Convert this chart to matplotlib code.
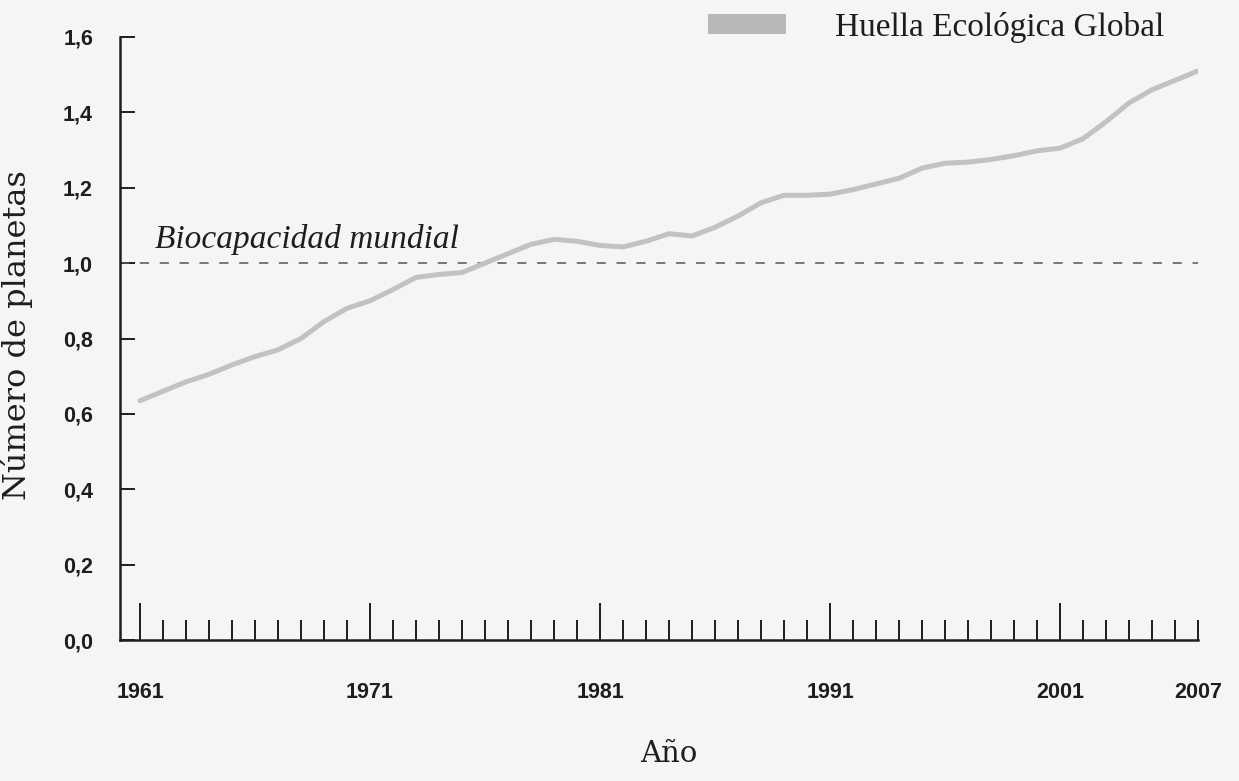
import numpy as np
import matplotlib
matplotlib.use('Agg')
import matplotlib.pyplot as plt
from matplotlib.patches import Patch
from matplotlib.ticker import FuncFormatter, FixedLocator

# data (ecological footprint, number of planets)
years = np.arange(1961, 2008)
huella = [0.635, 0.66, 0.685, 0.705, 0.73, 0.752, 0.77, 0.80, 0.845, 0.88,
          0.90, 0.93, 0.962, 0.97, 0.975, 1.0, 1.025, 1.05, 1.063, 1.058,
          1.047, 1.043, 1.058, 1.078, 1.072, 1.095, 1.125, 1.16, 1.18, 1.18,
          1.183, 1.195, 1.21, 1.225, 1.252, 1.265, 1.268, 1.275, 1.285, 1.298,
          1.305, 1.33, 1.375, 1.425, 1.46, 1.485, 1.51]
biocapacidad = 1.0
major_years = [1961, 1971, 1981, 1991, 2001]
y_ticks = [0.0, 0.2, 0.4, 0.6, 0.8, 1.0, 1.2, 1.4, 1.6]

ink = '#1e1e1e'
line_grey = '#c2c2c2'
paper = '#f5f5f3'

fig = plt.figure(figsize=(12.39, 7.81), dpi=100, facecolor=paper)
ax = fig.add_axes([120/1239, 1-640/781, 1078/1239, 603/781], facecolor=paper)

ax.plot(years, huella, color=line_grey, lw=3.6, solid_capstyle='round', zorder=3)
ax.axhline(biocapacidad, color='#555555', lw=1.1, dashes=(6, 7), zorder=2)
ax.text(1961.65, 1.04, 'Biocapacidad mundial', family='Liberation Serif',
        style='italic', fontsize=24, color=ink, va='baseline', ha='left')

ax.set_xlim(1960.13, 2007)
ax.set_ylim(0, 1.6)

for s in ['top', 'right']:
    ax.spines[s].set_visible(False)
for s in ['left', 'bottom']:
    ax.spines[s].set_color(ink)
    ax.spines[s].set_linewidth(1.8)

tick_font = {'family': ['Liberation Sans Narrow', 'Liberation Sans'], 'size': 15.5, 'weight': 'bold'}

ax.xaxis.set_major_locator(FixedLocator(major_years))
ax.xaxis.set_minor_locator(FixedLocator(list(years)))
ax.xaxis.set_major_formatter(FuncFormatter(lambda v, p: '%d' % v))
ax.xaxis.set_minor_formatter(FuncFormatter(lambda v, p: '2007' if int(round(v)) == 2007 else ''))
ax.tick_params(axis='x', which='major', direction='in', length=26.6, width=1.4,
               color=ink, pad=30, labelcolor=ink)
ax.tick_params(axis='x', which='minor', direction='in', length=14.4, width=1.4,
               color=ink, pad=30, labelcolor=ink)

ax.set_yticks(y_ticks)
ax.yaxis.set_major_formatter(FuncFormatter(lambda v, p: ('%.1f' % v).replace('.', ',')))
ax.tick_params(axis='y', direction='in', length=10.8, width=1.4, color=ink,
               pad=19.4, labelcolor=ink)

for lab in ax.get_xticklabels(which='both') + ax.get_yticklabels():
    lab.set_fontproperties(tick_font)

ax.set_ylabel('Número de planetas', family='DejaVu Serif', fontsize=23, color=ink)
ax.yaxis.set_label_coords(-0.0807, 0.506)
ax.set_xlabel('Año', family='DejaVu Serif', fontsize=21, color=ink)
ax.xaxis.set_label_coords(0.509, -0.166)

leg = ax.legend(handles=[Patch(facecolor='#b8b8b8', edgecolor='none', label='Huella Ecológica Global')],
                loc='upper left', bbox_to_anchor=(708/1239, 1-12/781), bbox_transform=fig.transFigure,
                frameon=False, borderpad=0, borderaxespad=0, handlelength=2.34, handleheight=0.54,
                handletextpad=1.47, prop={'family': 'Liberation Serif', 'size': 24})
for t in leg.get_texts():
    t.set_color(ink)

fig.savefig('out.png', dpi=100, facecolor=paper)
